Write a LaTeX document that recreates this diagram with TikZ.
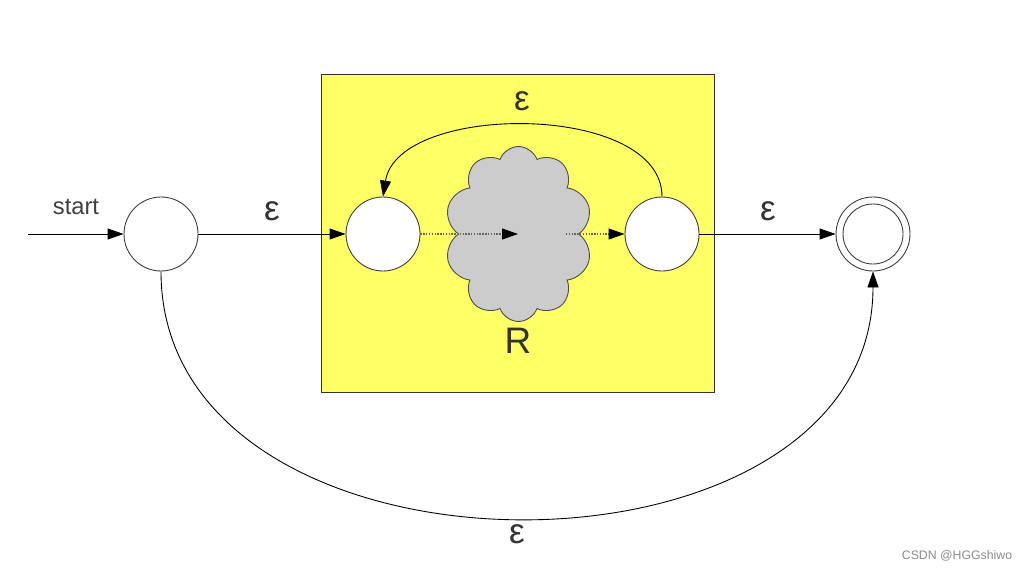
\documentclass[tikz,border=0pt]{standalone}
\usepackage{fontspec}
\setmainfont{Liberation Sans}
\usetikzlibrary{shapes.symbols,arrows.meta}
\definecolor{boxyellow}{RGB}{255,255,102}
\definecolor{cloudgray}{RGB}{204,204,204}
\definecolor{linegray}{RGB}{60,60,60}
\tikzset{
  state/.style={circle,draw=linegray,line width=0.5pt,fill=white,minimum size=14.8mm,inner sep=0pt},
  acceptouter/.style={circle,draw=linegray,line width=0.5pt,fill=white,minimum size=14.8mm,inner sep=0pt},
  acceptinner/.style={circle,draw=linegray,line width=0.5pt,minimum size=12mm,inner sep=0pt},
  edge/.style={line width=0.5pt,draw=black,-{Triangle[length=3.2mm,width=2.2mm]}},
  dotedge/.style={line width=0.6pt,draw=black!60,dash pattern=on 0.8pt off 0.8pt,-{Triangle[length=3.2mm,width=2.2mm,black]}},
  eps/.style={font=\fontsize{20}{22}\selectfont,text=black!80},
  lbl/.style={font=\fontsize{13.5}{15}\selectfont,text=black!75},
}
\begin{document}
\begin{tikzpicture}[x=0.2mm,y=-0.2mm]
\useasboundingbox (0,0) rectangle (1029,571);
\fill[white] (0,0) rectangle (1029,571);
% yellow box
\node[draw=black!80,line width=0.5pt,fill=boxyellow,minimum width=78.6mm,minimum height=63.6mm,inner sep=0pt] (box) at (517.5,233) {};
% cloud
\node[cloud,cloud puffs=10,cloud puff arc=140,cloud ignores aspect,draw=black!70,line width=0.5pt,fill=cloudgray,minimum width=29.6mm,minimum height=35mm,inner sep=0pt] (cloud) at (518.5,234) {};
% states
\node[state] (q0) at (161,234) {};
\node[state] (q1) at (383,234) {};
\node[state] (q2) at (662,234) {};
\node[acceptouter] (qf) at (873,234) {};
\node[acceptinner] (qfi) at (873,234) {};
\coordinate (s0) at (28,234);
\coordinate (m1) at (518,234);
\coordinate (m2) at (566,234);
% edges
\draw[edge] (s0) -- (q0);
\node[lbl] (startlbl) at (76,207) {start};
\draw[edge] (q0) -- (q1);
\node[eps] (e1) at (272,211) {ε};
\draw[dotedge] (q1) -- (m1);
\draw[dotedge] (m2) -- (q2);
\draw[edge] (q2) -- (qf);
\node[eps] (e2) at (768,211) {ε};
\draw[edge] (q2.north) .. controls (662,102) and (398,102) .. (q1.north);
\node[eps] (e3) at (522,101) {ε};
\draw[edge] (q0.south) .. controls (161,600) and (873,600) .. (qf.south);
\node[eps] (e4) at (517,534) {ε};
\node[font=\fontsize{21}{23}\selectfont,text=black!80] (R) at (518,341) {R};
\node[font=\fontsize{7}{8}\selectfont,text=black!45] (wm) at (957,556) {CSDN @HGGshiwo};
\end{tikzpicture}
\end{document}
